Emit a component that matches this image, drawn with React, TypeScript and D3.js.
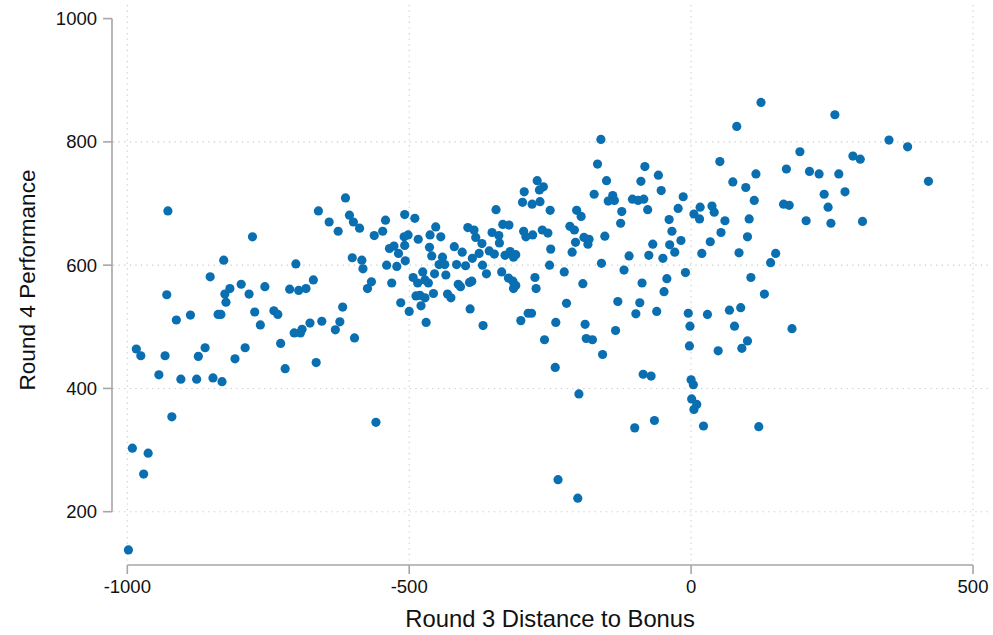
import React from "react";
import * as d3 from "d3";

// Round 3 distance to bonus (x) and round 4 performance (y), one entry per participant
const distanceToBonus: number[] = [
  -928, -778, -829, -853, -930, -827, -818, -798, -784, -825, -913, -888, -839, -834, -774, -764, -984, -976, -933, -874,
  -862, -809, -791, -944, -905, -877, -848, -832, -921, -991, -963, -971, -998,
  -613, -661, -642, -626, -606, -599, -588, -562, -547, -542, -508, -509, -535, -527, -519, -508, -507, -601, -584, -582,
  -540, -522, -567, -574, -531, -515, -701, -756, -712, -696, -683, -670, -740, -733, -728, -704, -693, -690, -676, -655,
  -618, -623, -631, -597, -720, -665, -559,
  -273, -296, -269, -262, -299, -282, -268, -250, -346, -490, -502, -484, -500, -463, -453, -444, -464, -460, -441, -447,
  -437, -420, -406, -416, -400, -396, -385, -382, -371, -376, -388, -370, -363, -353, -341, -340, -358, -349, -334, -323,
  -330, -321, -315, -311, -336, -324, -316, -311, -315, -297, -293, -281, -264, -254, -249, -251, -277, -275, -493, -476,
  -485, -472, -466, -455, -435, -488, -481, -472, -479, -457, -432, -426, -413, -409, -393, -389, -392, -470, -369, -302,
  -289, -283, -260,
  -160, -166, -82, -150, -89, -58, -53, -172, -139, -147, -136, -104, -94, -84, -14, -123, -77, -23, -203, -195,
  -125, -39, 5, -215, -207, -190, -181, -205, -183, -153, -34, -18, -68, -38, -29, -211, -110, -75, -50, -225,
  -159, -119, -10, -192, -87, -43, -48, -221, -130, -91, -98, -61, -5, -2, -3, -240, -188, -186, -175, -134,
  -157, -241, -85, -71, 0,
  4, -199, 1, 5, -65, -100, -236, -201, 10,
  124, 255, 81, 193, 51, 169, 210, 227, 262, 115, 74, 97, 112, 236, 243, 164, 174, 204, 248, 16,
  15, 37, 41, 60, 103, 53, 100, 34, 19, 85, 150, 141, 106, 130, 29, 68, 88, 77, 179, 48,
  100, 90, 22, 120,
  351, 384, 287, 300, 421, 273, 304,
];

const round4Performance: number[] = [
  688, 646, 608, 581, 552, 553, 562, 569, 553, 540, 511, 519, 520, 520, 524, 503, 464, 453, 453, 452,
  466, 448, 466, 422, 415, 415, 417, 411, 354, 303, 295, 261, 138,
  709, 688, 670, 655, 681, 670, 660, 648, 655, 673, 682, 646, 627, 631, 619, 632, 607, 612, 608, 594,
  600, 598, 573, 562, 571, 539, 602, 565, 561, 559, 562, 576, 526, 520, 473, 490, 490, 496, 506, 509,
  532, 508, 495, 482, 432, 442, 345,
  737, 719, 722, 727, 702, 699, 703, 689, 690, 676, 649, 642, 525, 649, 662, 646, 629, 615, 613, 601,
  601, 630, 621, 601, 599, 661, 657, 645, 635, 619, 611, 600, 586, 653, 648, 636, 623, 618, 666, 665,
  616, 622, 613, 617, 589, 579, 574, 567, 562, 655, 646, 649, 657, 652, 626, 600, 580, 562, 580, 589,
  571, 576, 571, 586, 584, 550, 551, 547, 534, 554, 553, 547, 569, 565, 572, 574, 529, 507, 502, 510,
  522, 522, 479,
  804, 764, 760, 737, 736, 746, 721, 715, 713, 704, 705, 707, 705, 707, 711, 687, 690, 692, 689, 679,
  668, 674, 683, 663, 657, 645, 642, 637, 634, 647, 655, 640, 634, 633, 621, 621, 615, 616, 611, 589,
  603, 592, 588, 570, 571, 578, 557, 538, 541, 539, 521, 525, 522, 501, 469, 507, 504, 481, 479, 494,
  455, 434, 423, 420, 414,
  406, 391, 383, 366, 348, 336, 252, 222, 374,
  864, 844, 825, 784, 768, 756, 752, 748, 748, 748, 735, 726, 705, 715, 694, 699, 697, 672, 668, 694,
  675, 696, 686, 672, 675, 653, 646, 638, 619, 620, 619, 604, 580, 553, 520, 527, 531, 501, 497, 461,
  477, 465, 339, 338,
  803, 792, 777, 772, 736, 719, 671,
];

const xTicks: number[] = [-1000, -500, 0, 500];
const yTicks: number[] = [200, 400, 600, 800, 1000];
const yGridValues: number[] = [200, 400, 600, 800];

const xTitle = "Round 3 Distance to Bonus";
const yTitle = "Round 4 Performance";

const WIDTH = 993;
const HEIGHT = 635;
const FONT = "'Liberation Sans', Arial, Helvetica, sans-serif";

// Plot region (area behind the grid) and axis positions
const region = { left: 113, right: 988, top: 5, bottom: 563 };
const yAxisX = 112;
const xAxisY = 565;

export default function App() {
  const x = d3.scaleLinear().domain([-1000, 500]).range([127.3, 973]);
  const y = d3.scaleLinear().domain([200, 1000]).range([511.7, 18.6]);

  const points = distanceToBonus.map((d, i) => ({ d, p: round4Performance[i] }));

  const axisColor = "#a6a6a6";
  const gridColor = "#c9c9c9";
  const textColor = "#111";

  return (
    <svg
      width={WIDTH}
      height={HEIGHT}
      viewBox={`0 0 ${WIDTH} ${HEIGHT}`}
      style={{ position: "absolute", left: 0, top: 0, background: "#fff" }}
    >
      <rect x={0} y={0} width={WIDTH} height={HEIGHT} fill="#fff" />

      {/* grid */}
      <g stroke={gridColor} strokeWidth={1.1} strokeDasharray="1.2 4.4" fill="none">
        {yGridValues.map((v) => (
          <line key={`hg${v}`} x1={region.left} x2={region.right} y1={y(v)} y2={y(v)} />
        ))}
        {xTicks.map((v) => (
          <line key={`vg${v}`} x1={x(v)} x2={x(v)} y1={region.top} y2={region.bottom} />
        ))}
      </g>

      {/* y axis */}
      <g>
        <line x1={yAxisX} x2={yAxisX} y1={y(1000)} y2={y(200)} stroke={axisColor} strokeWidth={1.6} />
        {yTicks.map((v) => (
          <g key={`yt${v}`}>
            <line x1={yAxisX - 9} x2={yAxisX} y1={y(v)} y2={y(v)} stroke={axisColor} strokeWidth={1.6} />
            <text
              x={yAxisX - 15}
              y={y(v)}
              textAnchor="end"
              dominantBaseline="central"
              fontFamily={FONT}
              fontSize={18.5}
              fill={textColor}
            >
              {v}
            </text>
          </g>
        ))}
      </g>

      {/* x axis */}
      <g>
        <line x1={x(-1000)} x2={x(500)} y1={xAxisY} y2={xAxisY} stroke={axisColor} strokeWidth={1.6} />
        {xTicks.map((v) => (
          <g key={`xt${v}`}>
            <line x1={x(v)} x2={x(v)} y1={xAxisY} y2={xAxisY + 9} stroke={axisColor} strokeWidth={1.6} />
            <text
              x={x(v)}
              y={593}
              textAnchor="middle"
              fontFamily={FONT}
              fontSize={18.5}
              fill={textColor}
            >
              {v}
            </text>
          </g>
        ))}
      </g>

      {/* markers */}
      <g fill="#0a6fb1">
        {points.map((pt, i) => (
          <circle key={i} cx={x(pt.d)} cy={y(pt.p)} r={4.6} />
        ))}
      </g>

      {/* titles */}
      <text
        x={(x(-1000) + x(500)) / 2}
        y={626.5}
        textAnchor="middle"
        fontFamily={FONT}
        fontSize={23.8}
        fill={textColor}
      >
        {xTitle}
      </text>
      <text
        transform={`translate(35, 280) rotate(-90)`}
        textAnchor="middle"
        fontFamily={FONT}
        fontSize={22.6}
        fill={textColor}
      >
        {yTitle}
      </text>
    </svg>
  );
}
